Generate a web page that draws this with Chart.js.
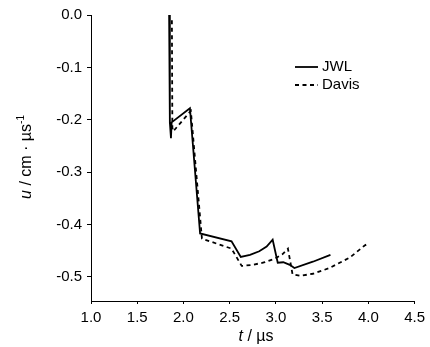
<!DOCTYPE html>
<html>
<head>
<meta charset="utf-8">
<script src="https://cdn.jsdelivr.net/npm/chart.js@4"></script>
<style>
  html, body { margin: 0; padding: 0; background: #fff; }
  #wrap { width: 430px; height: 347px; }
</style>
</head>
<body>
<div id="wrap"><canvas id="myChart" width="430" height="347"></canvas></div>
<script>
// JWL curve
var jwlT = [1.845, 1.853, 1.865, 1.872, 2.07, 2.18, 2.52, 2.62, 2.72, 2.82, 2.90, 2.965, 3.02, 3.08, 3.15, 3.20, 3.40, 3.59];
var jwlU = [0.0, -0.205, -0.235, -0.205, -0.178, -0.417, -0.432, -0.462, -0.458, -0.451, -0.442, -0.429, -0.473, -0.472, -0.477, -0.483, -0.471, -0.458];
// Davis curve
var davisT = [1.875, 1.88, 1.89, 2.08, 2.20, 2.52, 2.63, 2.75, 2.88, 2.99, 3.07, 3.13, 3.18, 3.26, 3.40, 3.58, 3.80, 3.96, 4.00];
var davisU = [-0.01, -0.215, -0.222, -0.183, -0.427, -0.446, -0.479, -0.477, -0.472, -0.465, -0.457, -0.446, -0.495, -0.498, -0.494, -0.483, -0.463, -0.440, -0.436];
var xTicks = [1.0, 1.5, 2.0, 2.5, 3.0, 3.5, 4.0, 4.5];
var yTicks = [0.0, -0.1, -0.2, -0.3, -0.4, -0.5];

var FONT = "'Liberation Sans', Arial, sans-serif";

function pts(xs, ys) {
  return xs.map(function (x, i) { return { x: x, y: ys[i] }; });
}

// legend + axis titles (mixed italic text)
var decor = {
  id: 'decor',
  afterDraw: function (chart) {
    var ctx = chart.ctx;
    ctx.save();
    ctx.fillStyle = '#000';
    ctx.strokeStyle = '#000';
    ctx.textBaseline = 'middle';
    ctx.font = '15px ' + FONT;

    // legend
    ctx.lineWidth = 1.8;
    ctx.setLineDash([]);
    ctx.beginPath(); ctx.moveTo(295, 67); ctx.lineTo(318, 67); ctx.stroke();
    ctx.setLineDash([4, 3.5]);
    ctx.beginPath(); ctx.moveTo(295, 85); ctx.lineTo(318, 85); ctx.stroke();
    ctx.setLineDash([]);
    ctx.textAlign = 'left';
    ctx.fillText('JWL', 322, 67);
    ctx.fillText('Davis', 322, 85);

    // x title: t / µs
    var xt = [['t', 'italic 16px ' + FONT], [' / \u00b5s', '16px ' + FONT]];
    var w = 0;
    xt.forEach(function (p) { ctx.font = p[1]; w += ctx.measureText(p[0]).width; });
    var x = 256 - w / 2;
    xt.forEach(function (p) { ctx.font = p[1]; ctx.fillText(p[0], x, 337); x += ctx.measureText(p[0]).width; });

    // y title: u / cm·µs-1
    ctx.translate(27, 157);
    ctx.rotate(-Math.PI / 2);
    var yt = [['u', 'italic 16px ' + FONT, 0], [' / cm \u00b7 \u00b5s', '16px ' + FONT, 0], ['-1', '10px ' + FONT, -6]];
    w = 0;
    yt.forEach(function (p) { ctx.font = p[1]; w += ctx.measureText(p[0]).width; });
    x = -w / 2;
    yt.forEach(function (p) { ctx.font = p[1]; ctx.fillText(p[0], x, p[2]); x += ctx.measureText(p[0]).width; });
    ctx.restore();
  }
};

var chart = new Chart(document.getElementById('myChart'), {
  type: 'line',
  data: {
    datasets: [
      {
        label: 'JWL',
        data: pts(jwlT, jwlU),
        borderColor: '#000',
        borderWidth: 1.8,
        pointRadius: 0,
        tension: 0
      },
      {
        label: 'Davis',
        data: pts(davisT, davisU),
        borderColor: '#000',
        borderWidth: 1.8,
        borderDash: [4, 3.5],
        pointRadius: 0,
        tension: 0
      }
    ]
  },
  options: {
    responsive: false,
    animation: false,
    layout: { padding: { top: 15, right: 15, left: 0, bottom: 0 } },
    plugins: { legend: { display: false }, tooltip: { enabled: false } },
    scales: {
      x: {
        type: 'linear',
        min: 1.0,
        max: 4.5,
        afterBuildTicks: function (s) { s.ticks = xTicks.map(function (v) { return { value: v }; }); },
        afterFit: function (s) { s.height = 46; },
        border: { display: true, color: '#000', width: 1 },
        grid: { drawOnChartArea: false, drawTicks: true, tickLength: 3, color: '#000' },
        ticks: {
          color: '#000',
          font: { family: FONT, size: 15 },
          padding: 5,
          maxRotation: 0,
          callback: function (v) { return v.toFixed(1); }
        }
      },
      y: {
        type: 'linear',
        min: -0.546,
        max: 0,
        afterBuildTicks: function (s) { s.ticks = yTicks.map(function (v) { return { value: v }; }); },
        afterFit: function (s) { s.width = 91; },
        border: { display: true, color: '#000', width: 1 },
        grid: { drawOnChartArea: false, drawTicks: true, tickLength: 4, color: '#000' },
        ticks: {
          color: '#000',
          font: { family: FONT, size: 15 },
          padding: 5,
          callback: function (v) { return v.toFixed(1); }
        }
      }
    }
  },
  plugins: [decor]
});
</script>
</body>
</html>
